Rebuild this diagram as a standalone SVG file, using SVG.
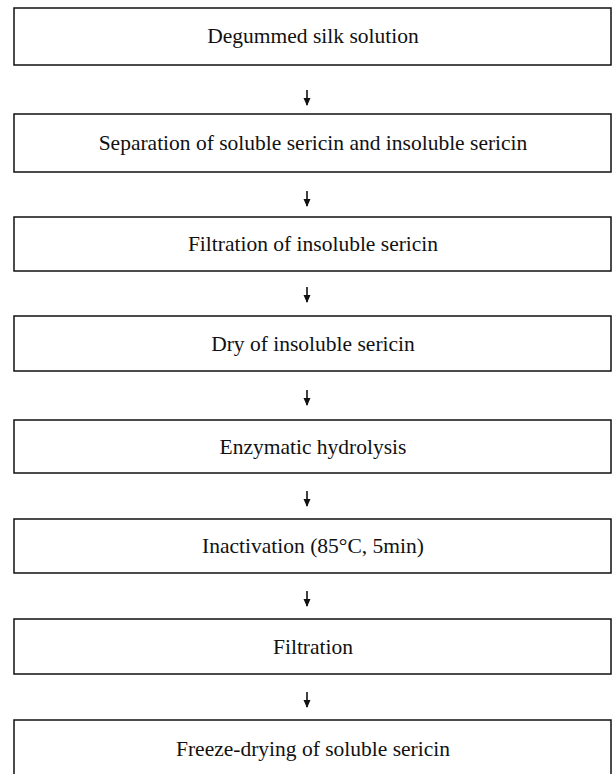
<svg xmlns="http://www.w3.org/2000/svg" width="613" height="774" viewBox="0 0 613 774">
<style>
.box{fill:#fff;stroke:#111;stroke-width:1.5}
.t{font-family:"Liberation Serif","Times New Roman",serif;font-size:21.5px;fill:#111;text-anchor:middle}
.c{stroke:#111;stroke-width:1.6;fill:none}
</style>
<defs>
<marker id="ah" markerWidth="8" markerHeight="8" refX="7" refY="4" orient="auto" markerUnits="userSpaceOnUse">
<path d="M0,0.5 L8,4 L0,7.5 Z" fill="#111"/>
</marker>
</defs>
<rect width="613" height="774" fill="#fff"/>
<g id="n1"><rect class="box" x="14" y="8" width="597" height="57"/><text class="t" x="313" y="43">Degummed silk solution</text></g>
<g id="n2"><rect class="box" x="14" y="114" width="597" height="58"/><text class="t" x="313" y="150">Separation of soluble sericin and insoluble sericin</text></g>
<g id="n3"><rect class="box" x="14" y="217" width="597" height="54"/><text class="t" x="313" y="251">Filtration of insoluble sericin</text></g>
<g id="n4"><rect class="box" x="14" y="316" width="597" height="55"/><text class="t" x="313" y="351">Dry of insoluble sericin</text></g>
<g id="n5"><rect class="box" x="14" y="420" width="597" height="53"/><text class="t" x="313" y="454">Enzymatic hydrolysis</text></g>
<g id="n6"><rect class="box" x="14" y="519" width="597" height="54"/><text class="t" x="313" y="553">Inactivation (85°C, 5min)</text></g>
<g id="n7"><rect class="box" x="14" y="619" width="597" height="55"/><text class="t" x="313" y="654">Filtration</text></g>
<g id="n8"><rect class="box" x="14" y="720" width="597" height="70"/><text class="t" x="313" y="756">Freeze-drying of soluble sericin</text></g>
<g id="connectors">
<line class="c" x1="307" y1="90" x2="307" y2="105" marker-end="url(#ah)"/>
<line class="c" x1="307" y1="191" x2="307" y2="206" marker-end="url(#ah)"/>
<line class="c" x1="307" y1="287" x2="307" y2="302" marker-end="url(#ah)"/>
<line class="c" x1="307" y1="390" x2="307" y2="405" marker-end="url(#ah)"/>
<line class="c" x1="307" y1="491" x2="307" y2="506" marker-end="url(#ah)"/>
<line class="c" x1="307" y1="591" x2="307" y2="606" marker-end="url(#ah)"/>
<line class="c" x1="307" y1="692" x2="307" y2="707" marker-end="url(#ah)"/>
</g>
</svg>
